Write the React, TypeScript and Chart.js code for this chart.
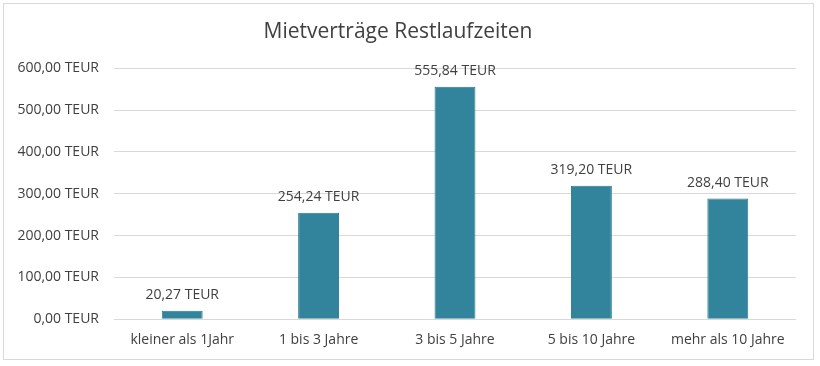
import React, { useEffect, useRef } from "react";
import { Chart, registerables } from "chart.js";

Chart.register(...registerables);

const categories = ["kleiner als 1Jahr", "1 bis 3 Jahre", "3 bis 5 Jahre", "5 bis 10 Jahre", "mehr als 10 Jahre"];
const values = [20.27, 254.24, 555.84, 319.2, 288.4];
const yTicks = [0, 100, 200, 300, 400, 500, 600];
const titleText = "Mietverträge Restlaufzeiten";

const fmt = (v: number) => v.toFixed(2).replace(".", ",") + " TEUR";
const FONT = "'Open Sans', sans-serif";

const frame = {
  id: "frame",
  beforeDraw(chart: any) {
    const ctx = chart.ctx;
    ctx.save();
    ctx.fillStyle = "#ffffff";
    ctx.fillRect(0, 0, chart.width, chart.height);
    ctx.strokeStyle = "#d9d9d9";
    ctx.lineWidth = 1;
    ctx.strokeRect(3.5, 3.5, chart.width - 10, chart.height - 10);
    ctx.restore();
  },
};

const dataLabels = {
  id: "dataLabels",
  afterDatasetsDraw(chart: any) {
    const ctx = chart.ctx;
    const meta = chart.getDatasetMeta(0);
    ctx.save();
    ctx.font = `14px ${FONT}`;
    ctx.fillStyle = "#404040";
    ctx.textAlign = "center";
    ctx.textBaseline = "middle";
    meta.data.forEach((el: any, i: number) => {
      ctx.fillText(fmt(values[i]), el.x, el.y - 16);
    });
    ctx.restore();
  },
};

export default function App() {
  const ref = useRef<HTMLCanvasElement>(null);
  useEffect(() => {
    document.body.style.margin = "0";
    const chart = new Chart(ref.current!, {
      type: "bar",
      data: {
        labels: categories,
        datasets: [
          {
            data: values,
            backgroundColor: "#31849b",
            borderColor: "#2b7a8f",
            borderWidth: 1,
            barPercentage: 0.6,
            categoryPercentage: 0.5,
          },
        ],
      },
      options: {
        animation: false,
        responsive: false,
        maintainAspectRatio: false,
        layout: { padding: { left: 0, right: 24, top: 0, bottom: 6 } },
        plugins: {
          legend: { display: false },
          tooltip: { enabled: false },
          title: {
            display: true,
            text: titleText,
            color: "#404040",
            font: { family: FONT, size: 21, weight: "normal" },
            padding: { top: 19, bottom: 24 },
          },
        },
        scales: {
          x: {
            grid: { display: false, drawTicks: false },
            border: { display: false },
            ticks: { color: "#404040", font: { family: FONT, size: 14 }, padding: 12, maxRotation: 0 },
          },
          y: {
            min: 0,
            max: 600,
            afterFit(scale: any) {
              scale.width = 114;
            },
            afterBuildTicks(scale: any) {
              scale.ticks = yTicks.map((v) => ({ value: v }));
            },
            grid: { color: "#d9d9d9", lineWidth: 1, drawTicks: false },
            border: { display: false },
            ticks: {
              color: "#404040",
              font: { family: FONT, size: 14 },
              padding: 15,
              callback: (v: any) => fmt(Number(v)),
            },
          },
        },
      },
      plugins: [frame, dataLabels],
    });
    return () => chart.destroy();
  }, []);
  return (
    <div style={{ width: 820, height: 366 }}>
      <canvas ref={ref} width={820} height={366} style={{ width: 820, height: 366, display: "block" }} />
    </div>
  );
}
